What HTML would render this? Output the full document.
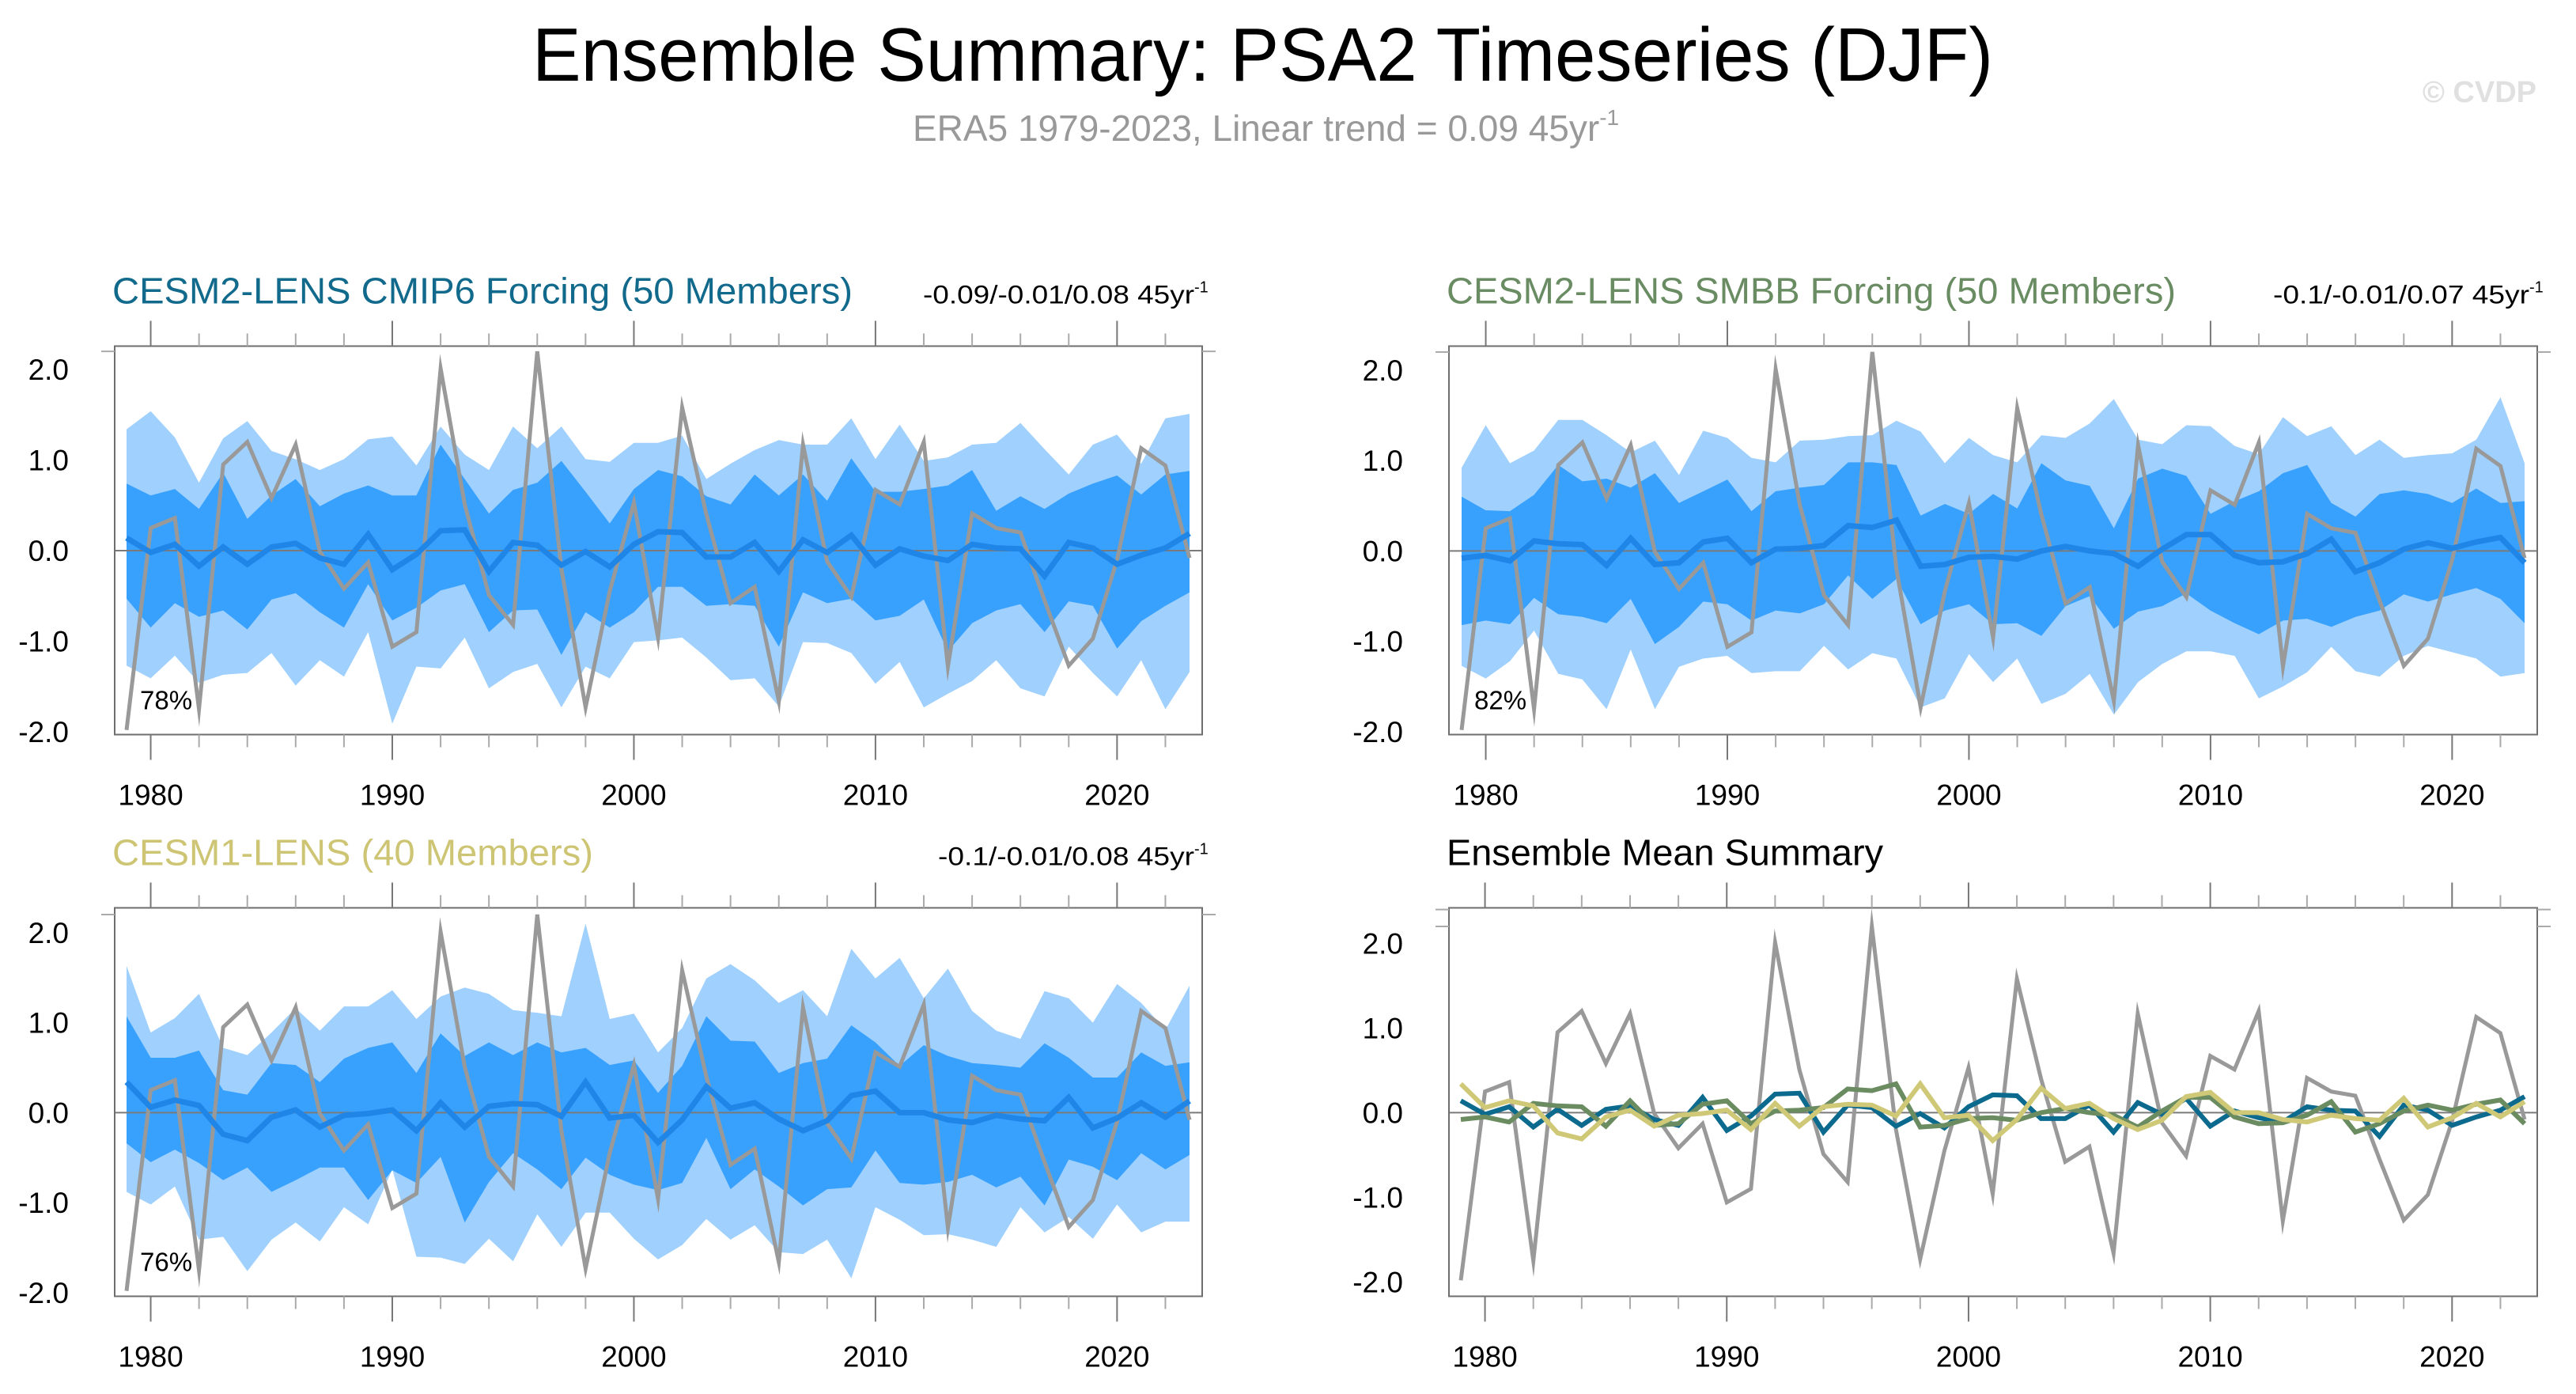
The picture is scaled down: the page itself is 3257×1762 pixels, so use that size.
<!DOCTYPE html>
<html><head><meta charset="utf-8"><style>
html,body{margin:0;padding:0;background:#fff;}
svg{display:block;font-family:"Liberation Sans",Arial,sans-serif;}
</style></head><body>
<svg id="fig" width="3257" height="1762" viewBox="0 0 3257 1762" xmlns="http://www.w3.org/2000/svg">
<text x="673" y="102" font-size="96" textLength="1847" lengthAdjust="spacingAndGlyphs" fill="#000">Ensemble Summary: PSA2 Timeseries (DJF)</text>
<text x="1154" y="178" font-size="46" fill="#999">ERA5 1979-2023, Linear trend = 0.09 45yr<tspan font-size="28" dy="-20">-1</tspan></text>
<text x="3207" y="129" font-size="38" font-weight="bold" text-anchor="end" fill="#e0e0e0">© CVDP</text>
</svg>
<script>
const years = [];
for (let y = 1979; y <= 2023; y++) years.push(y);
const era5 = [-1.98,0.25,0.36,-1.75,0.95,1.20,0.58,1.17,-0.01,-0.42,-0.13,-1.06,-0.90,2.01,0.51,-0.49,-0.82,2.20,-0.20,-1.73,-0.45,0.53,-0.96,1.58,0.40,-0.58,-0.40,-1.66,1.17,-0.12,-0.51,0.67,0.51,1.20,-1.28,0.41,0.25,0.20,-0.55,-1.27,-0.97,-0.10,1.13,0.94,-0.08];
const p1Mean = [0.14,-0.02,0.07,-0.17,0.04,-0.15,0.04,0.08,-0.08,-0.15,0.18,-0.21,-0.04,0.22,0.23,-0.23,0.09,0.06,-0.16,-0.01,-0.18,0.07,0.21,0.20,-0.07,-0.07,0.09,-0.23,0.12,-0.02,0.17,-0.16,0.02,-0.06,-0.11,0.07,0.03,0.02,-0.28,0.09,0.03,-0.15,-0.05,0.03,0.19];
const p1LightHi = [1.34,1.54,1.25,0.75,1.24,1.43,1.10,1.01,0.89,1.01,1.23,1.26,0.94,1.37,1.06,0.89,1.37,1.13,1.37,1.01,0.98,1.19,1.19,1.27,0.79,0.96,1.11,1.22,1.17,1.17,1.46,1.01,1.39,0.99,1.03,1.17,1.19,1.41,1.12,0.84,1.17,1.28,0.96,1.46,1.51];
const p1DarkHi = [0.74,0.61,0.68,0.46,0.86,0.35,0.61,0.79,0.49,0.63,0.72,0.61,0.61,1.17,0.79,0.41,0.67,0.75,0.99,0.65,0.30,0.68,0.89,0.82,0.60,0.51,0.84,0.61,0.84,0.55,1.02,0.65,0.65,0.68,0.72,0.89,0.44,0.60,0.46,0.63,0.74,0.83,0.62,0.84,0.88];
const p1DarkLo = [-0.53,-0.85,-0.58,-0.73,-0.66,-0.87,-0.54,-0.47,-0.68,-0.85,-0.37,-0.77,-0.63,-0.44,-0.37,-0.90,-0.66,-0.65,-1.15,-0.68,-0.85,-0.68,-0.40,-0.40,-0.61,-0.59,-0.61,-1.06,-0.46,-0.58,-0.53,-0.77,-0.72,-0.54,-1.11,-0.80,-0.66,-0.59,-0.90,-0.56,-0.61,-1.08,-0.78,-0.61,-0.46];
const p1LightLo = [-1.27,-1.41,-1.16,-1.46,-1.37,-1.35,-1.13,-1.49,-1.21,-1.39,-0.90,-1.91,-1.28,-1.30,-0.96,-1.52,-1.34,-1.25,-1.73,-1.28,-1.41,-1.01,-0.99,-0.96,-1.18,-1.43,-1.41,-1.72,-1.01,-1.02,-1.13,-1.47,-1.23,-1.73,-1.58,-1.44,-1.21,-1.52,-1.61,-1.06,-1.35,-1.61,-1.21,-1.75,-1.34];
const p2Mean = [-0.08,-0.05,-0.11,0.11,0.08,0.07,-0.16,0.14,-0.15,-0.13,0.10,0.14,-0.13,0.02,0.03,0.06,0.28,0.26,0.34,-0.17,-0.15,-0.07,-0.06,-0.09,0.00,0.05,0.00,-0.03,-0.17,0.02,0.18,0.18,-0.05,-0.13,-0.12,-0.03,0.13,-0.23,-0.13,0.02,0.09,0.03,0.10,0.15,-0.13];
const p2LightHi = [0.92,1.39,0.97,1.11,1.45,1.45,1.28,1.09,1.22,0.84,1.33,1.25,1.03,0.98,1.22,1.23,1.27,1.28,1.44,1.32,0.97,1.25,1.06,0.98,1.28,1.25,1.41,1.68,1.23,1.18,1.39,1.38,1.16,1.07,1.48,1.27,1.38,1.06,1.23,1.03,1.06,1.08,1.23,1.70,0.97];
const p2DarkHi = [0.60,0.45,0.44,0.62,0.95,0.77,0.80,0.70,0.86,0.53,0.66,0.79,0.44,0.66,0.70,0.73,0.98,0.98,0.95,0.39,0.52,0.41,0.63,0.47,0.97,0.78,0.72,0.25,0.80,0.91,0.83,0.41,0.55,0.66,0.86,0.95,0.53,0.38,0.63,0.67,0.63,0.53,0.69,0.53,0.55];
const p2DarkLo = [-0.82,-0.77,-0.81,-0.52,-0.70,-0.73,-0.80,-0.53,-1.03,-0.84,-0.56,-0.59,-0.77,-0.66,-0.69,-0.59,-0.27,-0.53,-0.31,-0.81,-0.66,-0.59,-0.81,-0.80,-0.94,-0.61,-0.50,-0.86,-0.67,-0.61,-0.47,-0.66,-0.80,-0.92,-0.77,-0.75,-0.84,-0.73,-0.66,-0.48,-0.56,-0.48,-0.41,-0.53,-0.80];
const p2LightLo = [-1.27,-1.41,-1.22,-0.88,-1.36,-1.42,-1.75,-1.09,-1.75,-1.28,-1.19,-1.16,-1.35,-1.33,-1.33,-1.05,-1.31,-1.13,-1.19,-1.73,-1.63,-1.14,-1.45,-1.19,-1.69,-1.58,-1.36,-1.81,-1.45,-1.25,-1.11,-1.11,-1.16,-1.63,-1.50,-1.34,-1.06,-1.33,-1.39,-1.16,-1.05,-1.12,-1.19,-1.39,-1.35];
const p3Mean = [0.34,0.06,0.14,0.08,-0.24,-0.31,-0.05,0.03,-0.16,-0.03,-0.01,0.03,-0.20,0.11,-0.16,0.07,0.10,0.09,-0.04,0.34,-0.06,-0.03,-0.33,-0.08,0.29,0.05,0.11,-0.07,-0.20,-0.09,0.19,0.24,0.00,0.00,-0.08,-0.11,-0.03,-0.07,-0.09,0.17,-0.17,-0.06,0.11,-0.05,0.13];
const p3LightHi = [1.63,0.89,1.05,1.32,0.72,0.64,0.89,1.16,0.91,1.18,1.18,1.36,1.04,1.29,1.39,1.32,1.14,1.11,1.07,2.10,1.04,1.10,0.67,0.94,1.49,1.65,1.47,1.22,1.36,1.07,1.82,1.49,1.72,1.27,1.60,1.13,0.91,0.82,1.35,1.27,1.00,1.43,1.22,0.92,1.41];
const p3DarkHi = [1.07,0.61,0.61,0.69,0.25,0.20,0.55,0.53,0.34,0.60,0.72,0.78,0.44,0.88,0.63,0.78,0.64,0.78,0.67,0.72,0.53,0.58,0.22,0.52,1.07,0.80,0.79,0.44,0.55,0.60,0.97,0.78,0.52,0.75,0.63,0.55,0.53,0.50,0.77,0.61,0.39,0.39,0.67,0.52,0.56];
const p3DarkLo = [-0.34,-0.55,-0.41,-0.56,-0.75,-0.61,-0.88,-0.75,-0.61,-0.61,-0.97,-0.64,-0.78,-0.49,-1.22,-0.77,-0.45,-0.63,-0.85,-0.50,-0.69,-0.80,-0.86,-0.78,-0.28,-0.85,-0.63,-0.82,-1.03,-0.85,-0.83,-0.42,-0.78,-0.80,-0.77,-0.69,-0.83,-0.71,-1.03,-0.52,-0.60,-0.75,-0.45,-0.63,-0.47];
const p3LightLo = [-0.88,-1.02,-0.82,-1.41,-1.38,-1.76,-1.41,-1.22,-1.43,-1.05,-1.24,-0.63,-1.60,-1.61,-1.68,-1.40,-1.65,-1.13,-1.49,-1.11,-1.11,-1.40,-1.63,-1.47,-1.18,-1.41,-1.25,-1.55,-1.57,-1.41,-1.84,-1.05,-1.19,-1.36,-1.35,-1.41,-1.49,-1.05,-1.33,-1.16,-1.40,-1.02,-1.33,-1.21,-1.21];
const yTickValues = [2, 1, 0, -1, -2];
const yTickLabels = ["2.0", "1.0", "0.0", "-1.0", "-2.0"];
const xTickValues = [1980, 1990, 2000, 2010, 2020];
const xTickLabels = ["1980", "1990", "2000", "2010", "2020"];

const NS = "http://www.w3.org/2000/svg";
const svg = document.getElementById("fig");
function mk(tag, attrs, parent) {
  const e = document.createElementNS(NS, tag);
  for (const k in attrs) e.setAttribute(k, attrs[k]);
  (parent || svg).appendChild(e);
  return e;
}

function panel(cfg) {
  const g = mk("g", {});
  
  
  const L = cfg.left, R = cfg.right, T = cfg.top, B = cfg.bottom;
  const xs = v => cfg.x0 + (v - 1979) * (cfg.x1 - cfg.x0) / 44;
  const ys = v => cfg.yZero - v * cfg.yUnit;
  const yMin = (cfg.yZero - B) / cfg.yUnit * -1, yMax = (cfg.yZero - T) / cfg.yUnit;

  const clipId = "clip-" + cfg.name;
  const cp = mk("clipPath", { id: clipId }, g);
  mk("rect", { x: L, y: T, width: R - L, height: B - T }, cp);
  const plot = mk("g", { "clip-path": "url(#" + clipId + ")" }, g);

  function band(hi, lo, color, nm) {
    let d = "";
    hi.forEach((v, i) => { d += (i ? "L" : "M") + xs(years[i]).toFixed(1) + "," + ys(v).toFixed(1); });
    for (let i = lo.length - 1; i >= 0; i--) d += "L" + xs(years[i]).toFixed(1) + "," + ys(lo[i]).toFixed(1);
    const p = mk("path", { d: d + "Z", fill: color }, plot);
    
    
  }
  function line(vals, color, w, nm) {
    const pts = vals.map((v, i) => xs(years[i]).toFixed(1) + "," + ys(v).toFixed(1)).join(" ");
    const p = mk("polyline", { points: pts, fill: "none", stroke: color, "stroke-width": w, "stroke-linejoin": "miter", "stroke-miterlimit": 10 }, plot);
    
    
  }
  if (cfg.bands) {
    band(cfg.bands.lightHi, cfg.bands.lightLo, "#9fd0fe", "outer-spread-band");
    band(cfg.bands.darkHi, cfg.bands.darkLo, "#38a1fe", "inner-spread-band");
  }
  const z = mk("line", { x1: L, x2: R, y1: ys(0), y2: ys(0), stroke: "#7a7a7a", "stroke-width": 2 }, plot);
  
  
  line(era5, "#999999", 5, "era5-line");
  cfg.lines.forEach(l => line(l.vals, l.color, l.w, l.name));

  const fr = mk("rect", { x: L, y: T, width: R - L, height: B - T, fill: "none", stroke: "#6e6e6e", "stroke-width": 2 }, g);
  
  

  for (let k = Math.ceil(yMin * 5); k <= Math.floor(yMax * 5); k++) {
    const v = k / 5, y = ys(v), major = (k % 5 === 0);
    const len = major ? 31 : 17, col = major ? "#777" : "#aaa";
    mk("line", { x1: L - len, x2: L, y1: y, y2: y, stroke: col, "stroke-width": 2 }, g);
    mk("line", { x1: R, x2: R + len, y1: y, y2: y, stroke: col, "stroke-width": 2 }, g);
  }
  for (let yr = 1980; yr <= 2022; yr += 2) {
    const x = xs(yr), major = (yr % 10 === 0);
    const len = major ? 32 : 16, col = major ? "#777" : "#aaa";
    mk("line", { x1: x, x2: x, y1: T - len, y2: T, stroke: col, "stroke-width": 2 }, g);
    mk("line", { x1: x, x2: x, y1: B, y2: B + len, stroke: col, "stroke-width": 2 }, g);
  }
  yTickValues.forEach((v, i) => {
    const t = mk("text", { x: L - 58, y: ys(v) + 13, "font-size": 37, "text-anchor": "end", fill: "#000" }, g);
    t.textContent = yTickLabels[i];
    
    
  });
  xTickValues.forEach((v, i) => {
    const t = mk("text", { x: xs(v), y: B + 89, "font-size": 37, "text-anchor": "middle", fill: "#000" }, g);
    t.textContent = xTickLabels[i];
    
    
  });
  const tt = mk("text", { x: L - 3, y: T - 54, "font-size": 46, fill: cfg.titleColor, textLength: cfg.titleLen, lengthAdjust: "spacingAndGlyphs" }, g);
  tt.textContent = cfg.title;
  
  
  if (cfg.trend) {
    const tr = mk("text", { x: R + 4 - cfg.trendLen - 14, y: T - 54, "font-size": 32, fill: "#000" }, g);
    tr.innerHTML = '<tspan textLength="' + cfg.trendLen + '" lengthAdjust="spacingAndGlyphs">' + cfg.trend + ' 45yr</tspan><tspan font-size="20" dy="-14">-1</tspan>';
    
    
  }
  if (cfg.pct) {
    const pc = mk("text", { x: L + 32, y: B - 32, "font-size": 33, fill: "#000" }, g);
    pc.textContent = cfg.pct;
    
    
  }
}

panel({ name: "panel-cesm2-cmip6", left: 145, right: 1520, top: 437.5, bottom: 928.5, x0: 160, x1: 1504, yZero: 696, yUnit: 114.5,
  bands: { lightHi: p1LightHi, darkHi: p1DarkHi, darkLo: p1DarkLo, lightLo: p1LightLo },
  lines: [{ vals: p1Mean, color: "#1f86e8", w: 7, name: "ensemble-mean-line" }],
  title: "CESM2-LENS CMIP6 Forcing (50 Members)", titleLen: 936, titleColor: "#11698c", trend: "-0.09/-0.01/0.08", trendLen: 343, pct: "78%" });
panel({ name: "panel-cesm2-smbb", left: 1832, right: 3208, top: 437.5, bottom: 928.5, x0: 1848, x1: 3192, yZero: 696.4, yUnit: 114.3,
  bands: { lightHi: p2LightHi, darkHi: p2DarkHi, darkLo: p2DarkLo, lightLo: p2LightLo },
  lines: [{ vals: p2Mean, color: "#1f86e8", w: 7, name: "ensemble-mean-line" }],
  title: "CESM2-LENS SMBB Forcing (50 Members)", titleLen: 922, titleColor: "#6a8c63", trend: "-0.1/-0.01/0.07", trendLen: 324, pct: "82%" });
panel({ name: "panel-cesm1", left: 145, right: 1520, top: 1147.5, bottom: 1638.5, x0: 160, x1: 1504, yZero: 1406.4, yUnit: 113.8,
  bands: { lightHi: p3LightHi, darkHi: p3DarkHi, darkLo: p3DarkLo, lightLo: p3LightLo },
  lines: [{ vals: p3Mean, color: "#1f86e8", w: 7, name: "ensemble-mean-line" }],
  title: "CESM1-LENS (40 Members)", titleLen: 608, titleColor: "#cdc573", trend: "-0.1/-0.01/0.08", trendLen: 324, pct: "76%" });
panel({ name: "panel-ensemble-mean-summary", left: 1832, right: 3208, top: 1147.5, bottom: 1638.5, x0: 1847, x1: 3192, yZero: 1406.4, yUnit: 107,
  bands: null,
  lines: [
    { vals: p1Mean, color: "#0b6a8d", w: 6, name: "cesm2-cmip6-mean-line" },
    { vals: p2Mean, color: "#6a8c60", w: 6, name: "cesm2-smbb-mean-line" },
    { vals: p3Mean, color: "#cfc877", w: 6, name: "cesm1-mean-line" }],
  title: "Ensemble Mean Summary", titleLen: 552, titleColor: "#000", trend: null, pct: null });
</script>
</body></html>
